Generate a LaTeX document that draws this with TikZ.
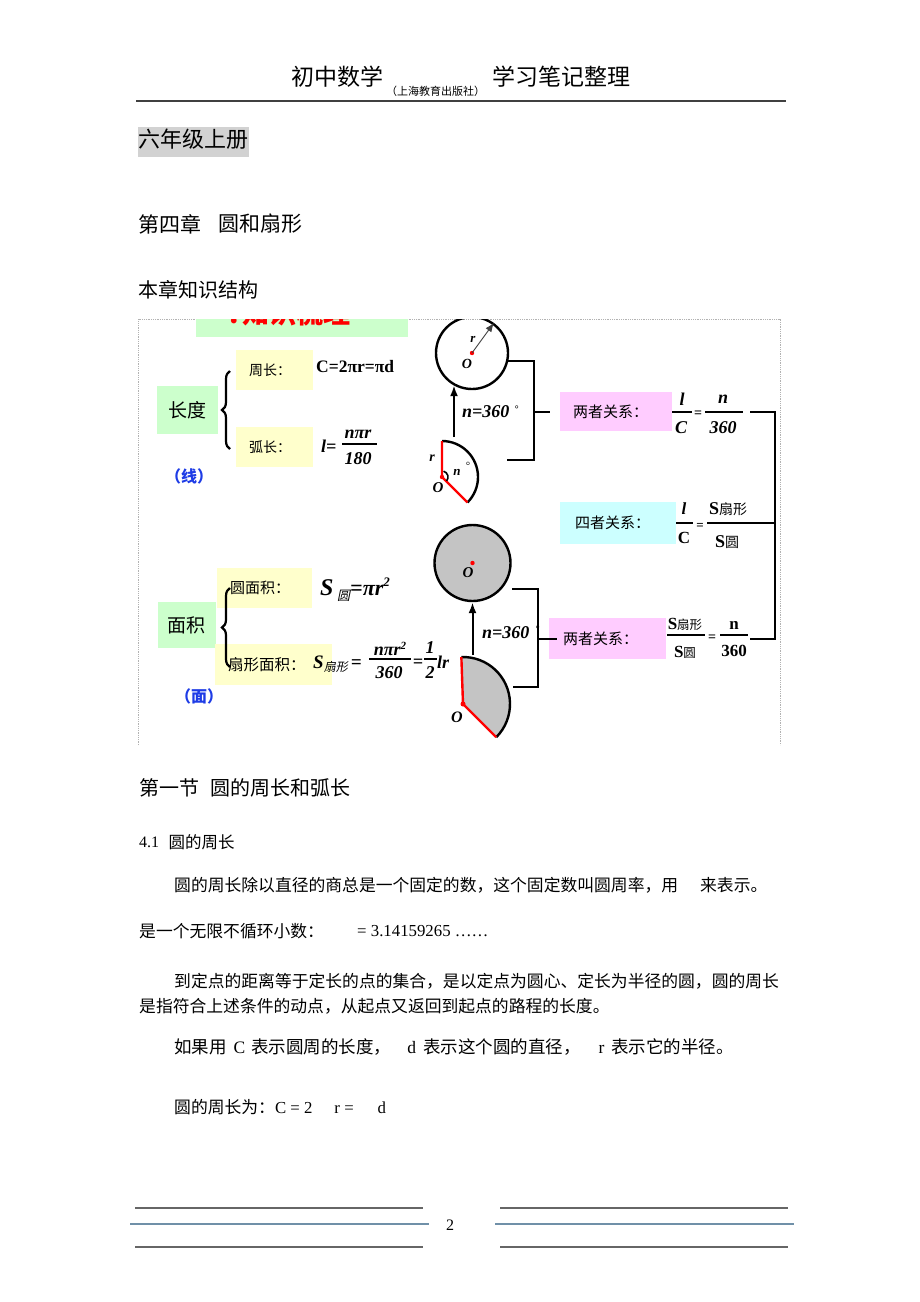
\documentclass[tikz,border=0pt]{standalone}
\usepackage{fontspec}
\setmainfont{Noto Sans CJK SC}
\newfontfamily\tms{Liberation Serif}
\newfontfamily\cjksl[FakeSlant=0.2]{Noto Sans CJK SC}
\usetikzlibrary{arrows.meta,decorations.pathreplacing,positioning}
\newcommand\setfs[1]{\fontsize{#1pt}{#1pt}\selectfont}
\definecolor{boxgreen}{HTML}{CCFFCC}
\definecolor{boxyellow}{HTML}{FFFFCC}
\definecolor{boxpink}{HTML}{FFCCFF}
\definecolor{boxcyan}{HTML}{CCFFFF}
\definecolor{gradegray}{HTML}{D2D2D2}
\definecolor{linkblue}{HTML}{1E3CE6}
\definecolor{rulegray}{HTML}{404040}
\definecolor{footblue}{HTML}{7090A8}
\definecolor{figgray}{HTML}{C4C4C4}

\begin{document}
\begin{tikzpicture}[x=1pt, y=1pt,
  txt/.style={anchor=west, inner sep=0},
  fillbox/.style={inner sep=0, outer sep=0},
  link/.style={line width=2pt},
  fbar/.style={line width=1.4pt},
  mathbi/.style={inner sep=0, font=\tms\bfseries\itshape\setfs{#1}},
  mathbf/.style={inner sep=0, font=\tms\bfseries\setfs{#1}},
  figline/.style={line width=2.4pt},
  redline/.style={red, line width=2.4pt},
  curly/.style={line width=2.2pt, decorate, decoration={brace, amplitude=8pt}},
  upar/.style={line width=2pt, -{Latex[length=11pt,width=8pt]}}]
\useasboundingbox (0,0) rectangle (920,-1302);
\fill[white] (0,0) rectangle (920,-1302);

% header
\node[txt, font=\setfs{23}] (hdL) at (291,-77) {初中数学};
\node[txt, font=\setfs{11}] (hdS) at (386,-91) {（上海教育出版社）};
\node[txt, font=\setfs{23}] (hdR) at (492,-77) {学习笔记整理};
\draw[rulegray, line width=1.8pt] (136,-101) -- (786,-101);

% titles
\node[fillbox, fill=gradegray, minimum width=111pt, minimum height=30pt] (grade) at (193.5,-142) {};
\node[txt, font=\setfs{22}] (gradeT) at (138,-139) {六年级上册};
\node[txt, font=\setfs{21}] (chap) at (138,-224) {第四章};
\node[txt, font=\setfs{21}, right=17pt of chap] (chapT) {圆和扇形};
\node[txt, font=\setfs{20}] (struct) at (138,-290) {本章知识结构};

% frame of the chart
\draw[gray!60, densely dotted, line width=0.8pt] (138,-745) -- (138,-319) -- (780,-319) -- (780,-745);

\begin{scope}
  \clip (138,-319) rectangle (780,-745);
  \fill[boxgreen] (196,-300) rectangle (408,-337);
  \node[txt, font=\bfseries\setfs{27}, text=red] (title) at (229,-313) {.\hspace{4pt}知识梳理};
  \node[circle, draw, line width=2.4pt, minimum size=72pt, inner sep=0] (cirA) at (472,-353) {};
\end{scope}

% length branch
\node[fillbox, fill=boxgreen, minimum width=61pt, minimum height=48pt, font=\setfs{19}] (len) at (187.5,-410) {长度};
\node[fillbox, fill=boxyellow, minimum width=77pt, minimum height=40pt] (zc) at (274.5,-370) {};
\node[txt, font=\setfs{14}, right=13pt of zc.west] (zcT) {周长：};
\node[fillbox, fill=boxyellow, minimum width=77pt, minimum height=40pt] (hc) at (274.5,-447) {};
\node[txt, font=\setfs{14}, right=13pt of hc.west] (hcT) {弧长：};
\draw[curly] (230,-449) -- (230,-371);
\node[txt, mathbf=17.5] (zcF) at (316,-367) {C=2πr=πd};
\node[txt, mathbi=18] (hcF) at (321,-446) {l=};
\node[anchor=base, mathbi=18] (hcN) at (358,-438) {nπr};
\draw[fbar] (342,-444) -- (377,-444);
\node[mathbi=18] (hcD) at (358,-459) {180};
\node[txt, font=\bfseries\setfs{16}, text=linkblue] (xian) at (165,-476) {（线）};

% area branch
\node[fillbox, fill=boxgreen, minimum width=58pt, minimum height=46pt, font=\setfs{19}] (area) at (186.5,-625) {面积};
\node[fillbox, fill=boxyellow, minimum width=95pt, minimum height=40pt] (ym) at (264.5,-588) {};
\node[txt, font=\setfs{15}, right=13pt of ym.west] (ymT) {圆面积：};
\node[fillbox, fill=boxyellow, minimum width=117pt, minimum height=41pt] (sm) at (273.5,-664.5) {};
\node[txt, font=\setfs{15.5}, right=13pt of sm.west] (smT) {扇形面积：};
\draw[curly] (230,-667) -- (230,-588);
\node[anchor=base west, mathbi=22] (ymF) at (320,-595) {{\setfs{24}S}\,\raisebox{-5pt}{\cjksl\mdseries\setfs{13}圆}=πr\raisebox{9pt}{\setfs{13}2}};
\node[anchor=base west, mathbi=19] (smF) at (313,-668) {S\raisebox{-3pt}{\cjksl\mdseries\setfs{12}扇形}\,=};
\node[anchor=base, mathbi=18] (smN) at (390,-655) {nπr\raisebox{6pt}{\setfs{11}2}};
\draw[fbar] (369,-659) -- (411,-659);
\node[mathbi=18] (smD) at (389,-673) {360};
\node[anchor=base, mathbi=18] (smE) at (418,-667) {=};
\node[mathbi=18] (smN2) at (430,-648) {1};
\draw[fbar] (424,-659) -- (437,-659);
\node[mathbi=18] (smD2) at (430,-673) {2};
\node[anchor=base west, mathbi=18] (smL) at (437,-668) {lr};
\node[txt, font=\bfseries\setfs{16}, text=linkblue] (mian) at (175,-696) {（面）};

% upper figures
\fill[red] (cirA.center) circle (2.2pt);
\draw[black!75, line width=0.9pt, -{Latex[length=9pt,width=7pt]}] (cirA.center) -- (cirA.54);
\node[mathbi=13] (labrA) at (473,-339) {r};
\node[mathbi=14] (labOA) at (467,-364) {O};
\coordinate (arA) at (454,-437);
\draw[upar] (arA) -- (arA |- cirA.240);
\node[txt, mathbi=18] (nA) at (462,-412) {n=360\hspace{5pt}\raisebox{5pt}{\setfs{10}°}};
\coordinate (sA) at (442,-477);
\draw[figline] (sA) ++(90:36) arc[start angle=90, end angle=-45, radius=36];
\draw[redline] (sA) ++(90:36) -- (sA) -- ++(-45:36);
\draw[line width=1.6pt] (sA) ++(75:6) arc[start angle=75, end angle=-40, radius=6];
\fill[red] (sA) circle (2.2pt);
\node[mathbi=13] (labnA) at (457,-472) {n};
\node[font=\tms\setfs{11}, inner sep=0] (labdA) at (468,-466) {°};
\node[mathbi=14] (labrB) at (432,-458) {r};
\node[mathbi=15] (labOB) at (438,-488) {O};
\coordinate (bkA) at (534,-460);
\coordinate (bkB) at (507,-460);
\draw[link] (cirA.-13) -| (bkA) -- (bkB);

% two-relation box (length)
\node[fillbox, fill=boxpink, minimum width=112pt, minimum height=39pt] (relA) at (616,-411.5) {};
\node[txt, font=\setfs{15}, right=13pt of relA.west] (relAT) {两者关系：};
\draw[link] (bkA |- relA.west) -- ++(16,0);
\node[mathbi=18] (fAn) at (682,-399) {l};
\draw[fbar] (672,-412) -- (692,-412);
\node[mathbi=18] (fAd) at (681,-428) {C};
\node[mathbf=14] (fAe) at (698,-414) {=};
\node[mathbi=18] (fBn) at (723,-399) {n};
\draw[fbar] (705,-412) -- (743,-412);
\node[mathbi=18] (fBd) at (723,-428) {360};

% four-relation box
\node[fillbox, fill=boxcyan, minimum width=116pt, minimum height=42pt] (relB) at (618,-523) {};
\node[txt, font=\setfs{15}, right=15pt of relB.west] (relBT) {四者关系：};
\node[mathbi=17] (gAn) at (684,-509) {l};
\draw[fbar] (676,-523) -- (693,-523);
\node[mathbf=17] (gAd) at (684,-538) {C};
\node[mathbf=13] (gAe) at (700,-526) {=};
\node[anchor=base, inner sep=0] (gBn) at (728,-514) {{\tms\bfseries\setfs{18}S}{\setfs{14}扇形}};
\draw[fbar] (707,-523) -- (752,-523);
\node[anchor=base, inner sep=0] (gBd) at (727,-547) {{\tms\bfseries\setfs{18}S}{\setfs{14}圆}};

% lower figures
\node[circle, draw, fill=figgray, line width=2.4pt, minimum size=76pt, inner sep=0] (cirB) at (472.5,-563) {};
\fill[red] (cirB.center) circle (2.2pt);
\node[mathbi=15] (labOC) at (468,-573) {O};
\coordinate (arB) at (472.5,-655);
\draw[upar] (arB) -- (cirB.south);
\node[txt, mathbi=18] (nB) at (482,-632) {n=360\hspace{6pt}\raisebox{6pt}{\setfs{10}°}};
\coordinate (sB) at (463,-704);
\fill[figgray] (sB) -- ++(92:47) arc[start angle=92, end angle=-45, radius=47] -- cycle;
\draw[figline] (sB) ++(92:47) arc[start angle=92, end angle=-45, radius=47];
\draw[redline] (sB) ++(92:47) -- (sB) -- ++(-45:47);
\fill[red] (sB) circle (2.5pt);
\node[mathbi=16] (labOD) at (457,-717) {O};
\coordinate (bkC) at (512,-589);
\coordinate (bkD) at (538,-687);
\coordinate (bkE) at (513,-687);
\draw[link] (bkC) -| (bkD) -- (bkE);

% two-relation box (area)
\node[fillbox, fill=boxpink, minimum width=117pt, minimum height=41pt] (relC) at (607.5,-638.5) {};
\node[txt, font=\setfs{15}, right=14pt of relC.west] (relCT) {两者关系：};
\draw[link] (bkD |- relC.west) -- ++(19,0);
\node[anchor=base, inner sep=0] (hAn) at (685,-629) {{\tms\bfseries\setfs{17}S}{\setfs{12.5}扇形}};
\draw[fbar] (667,-635) -- (705,-635);
\node[anchor=base, inner sep=0] (hAd) at (685,-657) {{\tms\bfseries\setfs{17}S}{\setfs{12.5}圆}};
\node[mathbf=14] (hAe) at (712,-638) {=};
\node[mathbf=17] (hBn) at (734,-625) {n};
\draw[fbar] (720,-635) -- (748,-635);
\node[mathbf=17] (hBd) at (734,-651) {360};

% right bracket joining the relations
\coordinate (rA) at (750,-412);
\coordinate (rB) at (752,-523);
\coordinate (rC) at (750,-639);
\coordinate (rK) at (775,-412);
\draw[link] (rA) -- (rK) -- (rK |- rC) -- (rC);
\draw[link] (rB) -- (rK |- rB);

% text below the chart
\node[txt, font=\setfs{20}] (sec) at (139,-788) {第一节};
\node[txt, font=\setfs{20}, right=11pt of sec] (secT) {圆的周长和弧长};
\node[txt, font=\tms\setfs{16}] (subN) at (139,-842) {4.1};
\node[txt, font=\setfs{16.5}, right=9pt of subN] (subT) {圆的周长};
\node[txt, font=\setfs{16.8}] (p1) at (174,-885) {圆的周长除以直径的商总是一个固定的数，这个固定数叫圆周率，用\hspace{22pt}来表示。};
\node[txt, font=\setfs{16.8}] (p2) at (139,-931.5) {是一个无限不循环小数：};
\node[txt, font=\tms\setfs{16.8}] (p2b) at (357,-931.5) {= 3.14159265 ……};
\node[txt, font=\setfs{16.8}] (p3) at (174,-981.5) {到定点的距离等于定长的点的集合，是以定点为圆心、定长为半径的圆，圆的周长};
\node[txt, font=\setfs{16.8}] (p4) at (139,-1006.5) {是指符合上述条件的动点，从起点又返回到起点的路程的长度。};
\node[txt, font=\setfs{17.5}] (p5) at (174,-1047.5) {如果用\hspace{7pt}{\tms C}\hspace{6pt}表示圆周的长度，\hspace{16pt}{\tms d}\hspace{7pt}表示这个圆的直径，\hspace{18pt}{\tms r}\hspace{7pt}表示它的半径。};
\node[txt, font=\setfs{16.8}] (p6) at (174,-1107) {圆的周长为：{\tms C = 2\hspace{22pt}r =\hspace{24pt}d}};

% footer
\draw[rulegray!80, line width=1.5pt] (135,-1208) -- (423,-1208) (500,-1208) -- (788,-1208);
\draw[footblue, line width=1.5pt] (130,-1224) -- (429,-1224) (495,-1224) -- (794,-1224);
\draw[rulegray!80, line width=1.5pt] (135,-1247) -- (423,-1247) (500,-1247) -- (788,-1247);
\node[font=\tms\setfs{16}, inner sep=0] (pgno) at (450,-1225) {2};
\end{tikzpicture}
\end{document}
